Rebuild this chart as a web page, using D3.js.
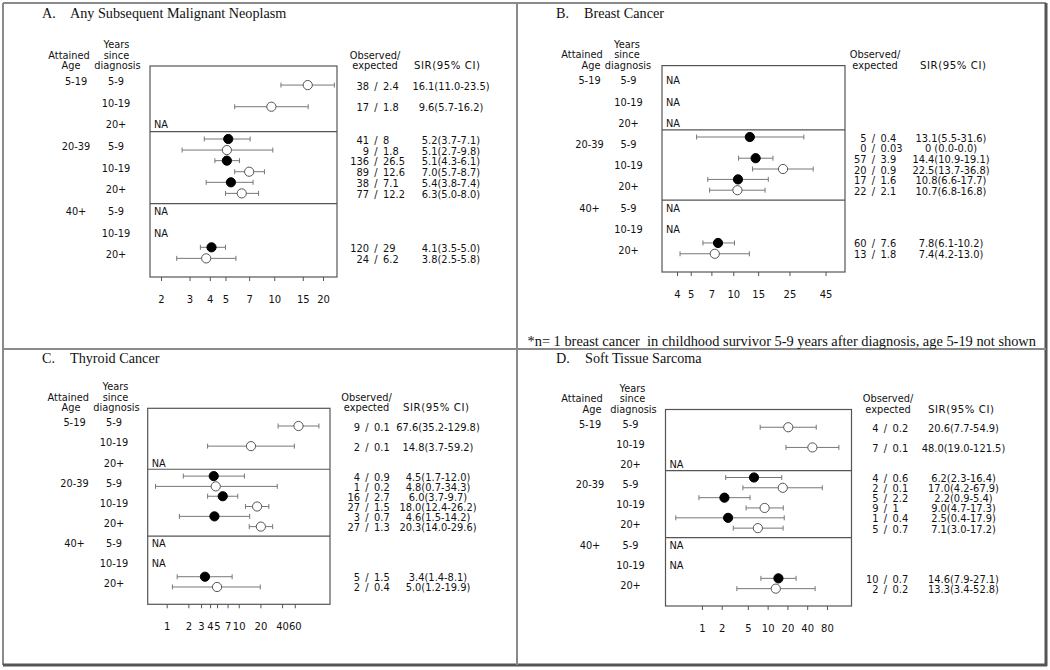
<!DOCTYPE html>
<html><head><meta charset="utf-8">
<script src="https://cdn.jsdelivr.net/npm/d3@7"></script>
<style>
body{margin:0;background:#fff}
svg{display:block}
text{font-family:"DejaVu Sans",Verdana,sans-serif;font-size:9.8px;fill:#111}
.ttl{font-family:"Liberation Serif","Times New Roman",serif;font-size:14.2px}
.val{font-size:9.9px}
</style>
</head><body><svg id="c" width="1050" height="670"></svg>
<script>
// ---------- DATA ----------
const attainedAges = ["5-19", "20-39", "40+"];
const yearsSince = ["5-9", "10-19", "20+"];
const panelLetters = ["A.", "B.", "C.", "D."];
const panelNames = ["Any Subsequent Malignant Neoplasm", "Breast Cancer", "Thyroid Cancer", "Soft Tissue Sarcoma"];
// [attained age, years since diagnosis, group, observed, expected, SIR, lower 95% CI, upper 95% CI]
const sirAny = [
  ["5-19", "5-9", "open", "38", "2.4", 16.1, 11.0, 23.5],
  ["5-19", "10-19", "open", "17", "1.8", 9.6, 5.7, 16.2],
  ["20-39", "5-9", "filled", "41", "8", 5.2, 3.7, 7.1],
  ["20-39", "5-9", "open", "9", "1.8", 5.1, 2.7, 9.8],
  ["20-39", "10-19", "filled", "136", "26.5", 5.1, 4.3, 6.1],
  ["20-39", "10-19", "open", "89", "12.6", 7.0, 5.7, 8.7],
  ["20-39", "20+", "filled", "38", "7.1", 5.4, 3.8, 7.4],
  ["20-39", "20+", "open", "77", "12.2", 6.3, 5.0, 8.0],
  ["40+", "20+", "filled", "120", "29", 4.1, 3.5, 5.0],
  ["40+", "20+", "open", "24", "6.2", 3.8, 2.5, 5.8]
];
const sirBreast = [
  ["20-39", "5-9", "filled", "5", "0.4", 13.1, 5.5, 31.6],
  ["20-39", "5-9", "open", "0", "0.03", 0, 0.0, 0.0],
  ["20-39", "10-19", "filled", "57", "3.9", 14.4, 10.9, 19.1],
  ["20-39", "10-19", "open", "20", "0.9", 22.5, 13.7, 36.8],
  ["20-39", "20+", "filled", "17", "1.6", 10.8, 6.6, 17.7],
  ["20-39", "20+", "open", "22", "2.1", 10.7, 6.8, 16.8],
  ["40+", "20+", "filled", "60", "7.6", 7.8, 6.1, 10.2],
  ["40+", "20+", "open", "13", "1.8", 7.4, 4.2, 13.0]
];
const sirThyroid = [
  ["5-19", "5-9", "open", "9", "0.1", 67.6, 35.2, 129.8],
  ["5-19", "10-19", "open", "2", "0.1", 14.8, 3.7, 59.2],
  ["20-39", "5-9", "filled", "4", "0.9", 4.5, 1.7, 12.0],
  ["20-39", "5-9", "open", "1", "0.2", 4.8, 0.7, 34.3],
  ["20-39", "10-19", "filled", "16", "2.7", 6.0, 3.7, 9.7],
  ["20-39", "10-19", "open", "27", "1.5", 18.0, 12.4, 26.2],
  ["20-39", "20+", "filled", "3", "0.7", 4.6, 1.5, 14.2],
  ["20-39", "20+", "open", "27", "1.3", 20.3, 14.0, 29.6],
  ["40+", "20+", "filled", "5", "1.5", 3.4, 1.4, 8.1],
  ["40+", "20+", "open", "2", "0.4", 5.0, 1.2, 19.9]
];
const sirSarcoma = [
  ["5-19", "5-9", "open", "4", "0.2", 20.6, 7.7, 54.9],
  ["5-19", "10-19", "open", "7", "0.1", 48.0, 19.0, 121.5],
  ["20-39", "5-9", "filled", "4", "0.6", 6.2, 2.3, 16.4],
  ["20-39", "5-9", "open", "2", "0.1", 17.0, 4.2, 67.9],
  ["20-39", "10-19", "filled", "5", "2.2", 2.2, 0.9, 5.4],
  ["20-39", "10-19", "open", "9", "1", 9.0, 4.7, 17.3],
  ["20-39", "20+", "filled", "1", "0.4", 2.5, 0.4, 17.9],
  ["20-39", "20+", "open", "5", "0.7", 7.1, 3.0, 17.2],
  ["40+", "20+", "filled", "10", "0.7", 14.6, 7.9, 27.1],
  ["40+", "20+", "open", "2", "0.2", 13.3, 3.4, 52.8]
];
const ticksAny = [2, 3, 4, 5, 7, 10, 15, 20];
const ticksBreast = [4, 5, 7, 10, 15, 25, 45];
const ticksThyroid = [1, 2, 3, 4, 5, 7, 10, 20, 40, 60];
const ticksSarcoma = [1, 2, 5, 10, 20, 40, 80];
const footnote = "*n= 1 breast cancer  in childhood survivor 5-9 years after diagnosis, age 5-19 not shown";

// ---------- LAYOUT ----------
const panels = [
  {data: sirAny, ticks: ticksAny, titleY: 18, letterX: 42, nameX: 70,
   boxL: 150, boxR: 337, boxT: 66, boxB: 277, dom: [1.71, 24.4],
   attX: 69, ageHX: 71, ageX: 76, ysdHX: 116.5, ysdX: 116, slashX: 376, sirX: 451, obsHX: 375, sirHX: 447},
  {data: sirBreast, ticks: ticksBreast, titleY: 18, letterX: 556, nameX: 584,
   boxL: 662, boxR: 845, boxT: 65.6, boxB: 272, dom: [3.13, 61.8],
   attX: 582, ageHX: 591, ageX: 589.5, ysdHX: 627, ysdX: 628.5, slashX: 873.5, sirX: 951, obsHX: 875, sirHX: 953},
  {data: sirThyroid, ticks: ticksThyroid, titleY: 363, letterX: 42, nameX: 70,
   boxL: 147.7, boxR: 330, boxT: 408.3, boxB: 604.3, dom: [0.545, 185],
   attX: 68.3, ageHX: 71, ageX: 74.5, ysdHX: 115.5, ysdX: 114, slashX: 367, sirX: 438, obsHX: 366.5, sirHX: 436},
  {data: sirSarcoma, ticks: ticksSarcoma, titleY: 363, letterX: 556, nameX: 585,
   boxL: 665.5, boxR: 851.5, boxT: 409.5, boxB: 606, dom: [0.279, 189],
   attX: 582, ageHX: 592, ageX: 590, ysdHX: 632.5, ysdX: 630.5, slashX: 885.5, sirX: 963.5, obsHX: 888, sirHX: 961}
];

const svg = d3.select("#c");

// frame
const frame = svg.append("g");
frame.append("line").attr("x1", 3).attr("x2", 1046).attr("y1", 3).attr("y2", 3).attr("stroke", "#8a8a8a").attr("stroke-width", 2);
frame.append("line").attr("x1", 3).attr("x2", 3).attr("y1", 3).attr("y2", 665).attr("stroke", "#8a8a8a").attr("stroke-width", 2);
frame.append("line").attr("x1", 1046).attr("x2", 1046).attr("y1", 3).attr("y2", 666).attr("stroke", "#555").attr("stroke-width", 3);
frame.append("line").attr("x1", 3).attr("x2", 1047).attr("y1", 665).attr("y2", 665).attr("stroke", "#555").attr("stroke-width", 3);
frame.append("line").attr("x1", 517).attr("x2", 517).attr("y1", 3).attr("y2", 665).attr("stroke", "#8a8a8a").attr("stroke-width", 2);
frame.append("line").attr("x1", 3).attr("x2", 1046).attr("y1", 349).attr("y2", 349).attr("stroke", "#8a8a8a").attr("stroke-width", 2);

svg.append("text").attr("class", "ttl").attr("x", 527.5).attr("y", 346)
  .style("font-size", "14.4px").style("white-space", "pre").attr("xml:space", "preserve").text(footnote);

const fmt1 = d3.format(".1f");
function sirLabel(d) {
  return d[5] === 0 ? "0 (0.0-0.0)" : `${fmt1(d[5])}(${fmt1(d[6])}-${fmt1(d[7])})`;
}

panels.forEach((p, i) => {
  const g = svg.append("g");
  // title
  g.append("text").attr("class", "ttl").attr("x", p.letterX).attr("y", p.titleY).text(panelLetters[i]);
  g.append("text").attr("class", "ttl").attr("x", p.nameX).attr("y", p.titleY).text(panelNames[i]);

  // scales
  const x = d3.scaleLog().domain(p.dom).range([p.boxL, p.boxR]);
  const y = d3.scaleLinear().domain([-0.72, 9.02]).range([p.boxT, p.boxB]);

  // headers
  const hy = [p.boxT - 21.5, p.boxT - 11, p.boxT - 0.5];
  const hdr = (t, xx, yy) => g.append("text").attr("x", xx).attr("y", yy)
      .attr("text-anchor", "middle").attr("dominant-baseline", "central").text(t);
  hdr("Attained", p.attX, hy[1]);
  hdr("Age", p.ageHX, hy[2]);
  hdr("Years", p.ysdHX, hy[0]);
  hdr("since", p.ysdHX, hy[1]);
  hdr("diagnosis", p.ysdHX + 1, hy[2]);
  hdr("Observed/", p.obsHX, hy[1]);
  hdr("expected", p.obsHX, hy[2]);
  hdr("SIR(95% CI)", p.sirHX, hy[2]).style("font-size", "10.2px")
    .attr("textLength", 66).attr("lengthAdjust", "spacing");

  // box and dividers
  g.append("rect").attr("x", p.boxL).attr("y", p.boxT).attr("width", p.boxR - p.boxL).attr("height", p.boxB - p.boxT)
    .attr("fill", "none").attr("stroke", "#555").attr("stroke-width", 1.2);
  [2.31, 5.63].forEach(s => g.append("line").attr("x1", p.boxL).attr("x2", p.boxR)
    .attr("y1", y(s)).attr("y2", y(s)).attr("stroke", "#555").attr("stroke-width", 1.2));

  // row labels & NA
  attainedAges.forEach((a, ai) => {
    g.append("text").attr("x", p.ageX).attr("y", y(ai * 3)).attr("text-anchor", "middle")
      .attr("dominant-baseline", "central").text(a);
    yearsSince.forEach((ys, yi) => {
      const slot = ai * 3 + yi;
      g.append("text").attr("x", p.ysdX).attr("y", y(slot)).attr("text-anchor", "middle")
        .attr("dominant-baseline", "central").text(ys);
      const has = p.data.some(d => d[0] === a && d[1] === ys);
      if (!has) {
        g.append("text").attr("x", p.boxL + 4).attr("y", y(slot)).attr("dominant-baseline", "central").text("NA");
      }
    });
  });

  const ypos = d => {
    const slot = attainedAges.indexOf(d[0]) * 3 + yearsSince.indexOf(d[1]);
    return y(slot + (d[2] === "filled" ? -0.35 : 0.16));
  };

  // CI bars + markers
  const plotted = p.data.filter(d => d[5] > 0);
  const est = g.selectAll("g.est").data(plotted).join("g").attr("class", "est");
  est.append("line").attr("x1", d => x(d[6])).attr("x2", d => x(d[7]))
    .attr("y1", ypos).attr("y2", ypos).attr("stroke", "#777").attr("stroke-width", 1);
  est.append("line").attr("x1", d => x(d[6])).attr("x2", d => x(d[6]))
    .attr("y1", d => ypos(d) - 2.5).attr("y2", d => ypos(d) + 2.5).attr("stroke", "#777");
  est.append("line").attr("x1", d => x(d[7])).attr("x2", d => x(d[7]))
    .attr("y1", d => ypos(d) - 2.5).attr("y2", d => ypos(d) + 2.5).attr("stroke", "#777");
  est.append("circle").attr("cx", d => x(d[5])).attr("cy", ypos).attr("r", 4.6)
    .attr("fill", d => d[2] === "filled" ? "#000" : "#fff")
    .attr("stroke", d => d[2] === "filled" ? "#000" : "#555").attr("stroke-width", 1);

  // right-side text
  const txt = g.selectAll("g.txt").data(p.data).join("g").attr("class", "txt");
  txt.append("text").attr("class", "val").attr("x", p.slashX - 7).attr("y", d => ypos(d) + 1).attr("text-anchor", "end")
    .attr("dominant-baseline", "central").text(d => d[3]);
  txt.append("text").attr("class", "val").attr("x", p.slashX).attr("y", d => ypos(d) + 1).attr("text-anchor", "middle")
    .attr("dominant-baseline", "central").text("/");
  txt.append("text").attr("class", "val").attr("x", p.slashX + 7).attr("y", d => ypos(d) + 1)
    .attr("dominant-baseline", "central").text(d => d[4]);
  txt.append("text").attr("class", "val").attr("x", p.sirX).attr("y", d => ypos(d) + 1).attr("text-anchor", "middle")
    .attr("dominant-baseline", "central").text(sirLabel);

  // axis
  const ax = g.append("g").attr("transform", `translate(0,${p.boxB})`)
    .call(d3.axisBottom(x).tickValues(p.ticks).tickFormat(d3.format("d")).tickSize(4).tickPadding(15));
  ax.select(".domain").remove();
  ax.selectAll(".tick line").attr("stroke", "#555");
  ax.selectAll(".tick text").attr("fill", "#111").style("font-family", "'DejaVu Sans',Verdana,sans-serif").style("font-size", "10px");
});
</script>
</body></html>
